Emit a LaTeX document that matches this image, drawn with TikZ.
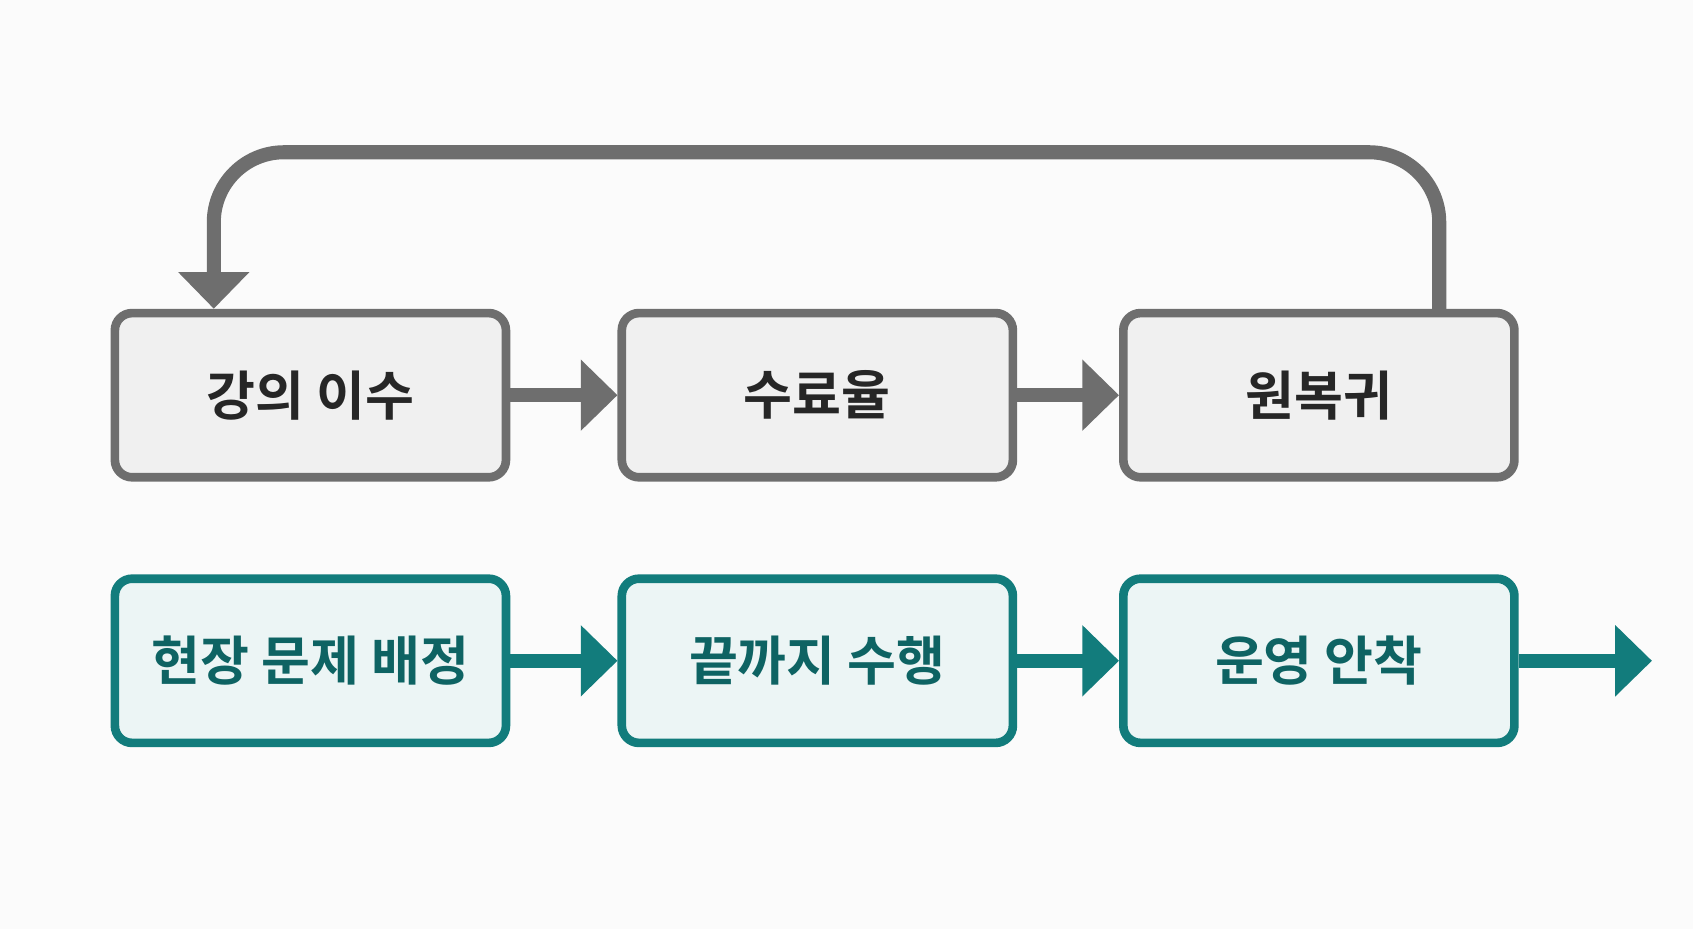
\documentclass[tikz,border=0pt]{standalone}
\usepackage{fontspec}
\newfontfamily\cjk{Noto Sans CJK KR}[BoldFont={Noto Sans CJK KR Bold}]
\usetikzlibrary{arrows.meta}
\definecolor{linegray}{HTML}{6E6E6E}
\definecolor{teal}{HTML}{127C7C}
\tikzset{
  gbox/.style={draw=linegray,fill=gray!12,line width=0.08cm,rounded corners=0.16cm,minimum width=3.62cm,minimum height=1.52cm,font=\cjk\bfseries\fontsize{14}{17}\selectfont,text=black!85},
  tbox/.style={draw=teal,fill=teal!8,line width=0.08cm,rounded corners=0.16cm,minimum width=3.62cm,minimum height=1.52cm,font=\cjk\bfseries\fontsize{14}{17}\selectfont,text=teal!80!black},
  garr/.style={linegray,line width=0.13cm,-{Triangle[length=0.34cm,width=0.64cm]}},
  tarr/.style={teal,line width=0.13cm,-{Triangle[length=0.34cm,width=0.64cm]}}
}
\begin{document}
\begin{tikzpicture}[x=0.01cm,y=-0.01cm]
\useasboundingbox[fill=white!97!gray] (0,0) rectangle (1568,860);

\node[gbox] (lec) at (287.5,366) {강의 이수};
\node[gbox] (rate) at (757,366) {수료율};
\node[gbox] (back) at (1221.5,366) {원복귀};
\node[tbox] (prob) at (287.5,612) {현장 문제 배정};
\node[tbox] (done) at (757,612) {끝까지 수행};
\node[tbox] (stay) at (1221.5,612) {운영 안착};
\coordinate (out) at (1530,612);

\draw[garr] (lec) -- (rate);
\draw[garr] (rate) -- (back);
\draw[tarr] (prob) -- (done);
\draw[tarr] (done) -- (stay);
\draw[tarr] (stay) -- (out);
\draw[garr,rounded corners=0.65cm] (back.north -| 1333,0) -- (1333,141) -- (198,141) -- (lec.north -| 198,0);

\end{tikzpicture}
\end{document}
